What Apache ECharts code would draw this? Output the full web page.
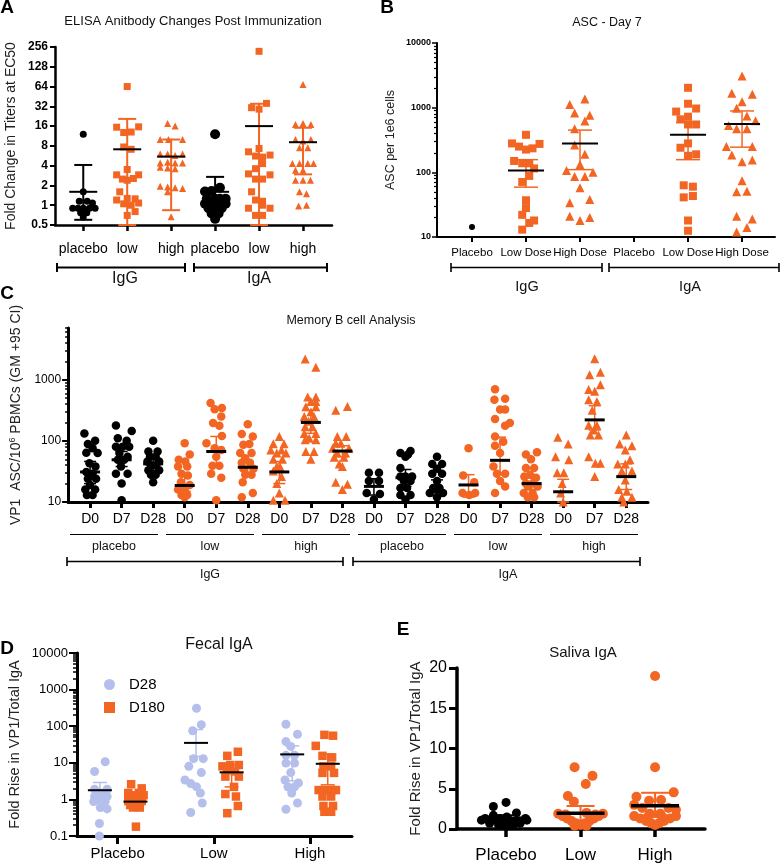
<!DOCTYPE html>
<html><head><meta charset="utf-8">
<script src="https://cdn.jsdelivr.net/npm/echarts@6/dist/echarts.min.js"></script>
<style>html,body{margin:0;padding:0;background:#fff}#c{width:781px;height:865px}</style>
</head><body><div id="c"></div><script>
const ORANGE = '#F26522', BLACK = '#000000', LAV = '#B4BFEC';
const FONT = '"Liberation Sans", Arial, Helvetica, sans-serif';

// ---------- Panel A: ELISA (fold change, log2) ----------
const aCategories = ['placebo', 'low', 'high', 'placebo', 'low', 'high'];
const aIsotypes = ['IgG', 'IgA'];
// points: [horizontal jitter (category units), value]
const aIgGPlacebo = [[0,12],[0,1.6],[-0.09,1.15],[0.09,1.15],[0.21,1.08],[-0.24,0.9],[-0.12,0.9],[0,0.9],[0.14,0.9],[0.27,0.9],[-0.06,0.77],[0.08,0.77],[0,0.66]];
const aIgGLow = [[0,64],[-0.24,15.4],[0.26,15.6],[-0.08,12.8],[0.09,13],[-0.08,7.7],[0.09,7.1],[0,3.5],[-0.24,2.9],[0.26,2.9],[-0.11,2.5],[0,2.4],[0.14,2.55],[-0.17,1.6],[-0.24,1.2],[0,1.27],[0.18,1.25],[-0.08,1.05],[0.09,1.0],[0.26,1.08],[0.18,0.8],[0,0.7]];
const aIgGHigh = [[-0.08,17.6],[0.09,16],[-0.25,10],[-0.06,10],[0.26,10],[-0.25,6],[-0.08,6],[0.26,6],[0.09,5.7],[-0.25,4.4],[-0.08,4.5],[0.09,4.4],[0.26,4.4],[-0.25,3.8],[-0.08,3.7],[0.09,3.6],[-0.25,1.95],[-0.08,1.9],[0.09,1.85],[0.26,1.8],[-0.08,1.6],[0,0.67]];
const aIgAPlacebo = [[0,12],[0.11,1.84],[-0.23,1.62],[-0.08,1.65],[-0.19,1.25],[0,1.25],[0.11,1.25],[0.24,1.25],[-0.23,1.05],[-0.08,1.02],[0.08,1.02],[0.24,1.05],[-0.15,0.9],[0,0.9],[0.15,0.9],[-0.08,0.75],[0.08,0.75],[0,0.62]];
const aIgALow = [[0,220],[-0.17,30.5],[0.17,35.5],[0,29],[0,7.3],[-0.24,6.5],[-0.08,5.6],[0.08,5.4],[0.25,5.8],[0.08,4.3],[-0.08,3.6],[-0.24,3.0],[0.25,2.9],[-0.08,2.5],[0.08,2.5],[-0.17,1.6],[-0.08,1.2],[0.08,1.15],[0.08,1.0],[-0.24,0.9],[0.25,0.9],[-0.08,0.7],[0.08,0.7]];
const aIgAHigh = [[0,69],[0,17.6],[0.18,17],[-0.17,17],[-0.17,10],[0.18,10],[0,9.5],[-0.08,7.5],[0.11,7.5],[-0.24,4.3],[-0.08,4.3],[0.11,4.3],[0.24,4.3],[-0.17,3.4],[0,3.4],[-0.17,2.4],[0.17,2.4],[0,2.4],[-0.08,1.6],[0.08,1.5],[-0.1,0.97],[0.08,1.0]];
const aMean  = [1.6, 7.1, 5.5, 1.6, 16, 9.1];
const aLower = [0.6, 0.5, 0.84, 0.95, 0.5, 2.95];
const aUpper = [4.1, 20.6, 10, 2.7, 35, 15.1];

// ---------- Panel B: ASC Day 7 ----------
const bCategories = ['Placebo', 'Low Dose', 'High Dose', 'Placebo', 'Low Dose', 'High Dose'];
const bIsotypes = ['IgG', 'IgA'];
const bIgGPlacebo = [[0,14.3]];
const bIgGLow = [[0,380],[-0.26,280],[-0.13,250],[0,225],[0.12,235],[0.25,275],[-0.22,150],[-0.07,138],[0.06,138],[0.15,115],[0.06,88],[-0.07,71],[0,37],[0,28],[-0.07,22],[0.06,16.5],[0.15,18],[-0.07,13]];
const bIgGHigh = [[0.09,1360],[-0.19,1120],[-0.1,830],[0.18,760],[0.09,620],[-0.1,470],[-0.1,265],[0.09,190],[0,132],[-0.25,107],[0.24,100],[-0.1,86],[0.09,86],[0,58],[-0.19,34],[0.18,38],[-0.19,21],[0,18],[0.18,20]];
const bIgALow = [[0,2030],[0,1150],[0.15,970],[-0.22,870],[0,725],[-0.14,660],[0.15,550],[0,550],[0,280],[-0.14,240],[0.15,190],[0,180],[-0.08,63],[0.09,60],[-0.08,41],[0.09,43],[0,18],[0,12.5]];
const bIgAHigh = [[0,3100],[-0.19,1670],[0.19,1610],[0,1240],[-0.1,980],[0.09,740],[-0.25,530],[-0.1,470],[0.09,470],[0.25,630],[-0.29,250],[0.19,250],[-0.19,185],[0,146],[0.19,155],[0,74],[-0.1,50],[0.09,51],[-0.1,21],[0.19,19],[-0.1,12],[0.09,14]];
const bErrPos   = [2, 3, 5, 6];
const bMean  = [107, 280, 380, 560];
const bLower = [59, 110, 157, 245];
const bUpper = [157, 450, 590, 890];

// ---------- Panel C: Memory B cells ----------
const cDays = ['D0','D7','D28','D0','D7','D28','D0','D7','D28','D0','D7','D28','D0','D7','D28','D0','D7','D28'];
const cDoses = ['placebo','low','high','placebo','low','high'];
const cIsotypes = ['IgG', 'IgA'];
const cIgGPlaceboD0 = [[-0.18,132],[0.16,100],[-0.07,89],[0.08,76],[-0.12,64],[0.24,63],[-0.02,43],[0.17,38],[-0.12,31],[0.08,29],[-0.07,24],[0.19,24],[0,19],[-0.15,16],[0.16,16],[-0.1,13],[0.08,13]];
const cIgGPlaceboD7 = [[-0.18,178],[0.32,145],[-0.12,110],[0.16,100],[-0.18,80],[0.03,80],[0.24,80],[-0.07,63],[0.19,55],[-0.12,49],[0.08,49],[-0.02,38],[-0.18,29],[0.19,29],[0,20],[0,10.7]];
const cIgGPlaceboD28 = [[0,100],[-0.15,67],[0.14,67],[-0.1,55],[0.08,55],[-0.18,46],[0.19,46],[-0.07,40],[0.08,40],[-0.15,33],[0.19,33],[-0.07,28],[0.08,28],[0,21]];
const cIgGLowD0 = [[0,91],[0.16,60],[-0.19,49],[0.02,46],[-0.21,38],[0.08,38],[-0.1,29],[0.1,27],[-0.12,21],[0.16,19],[-0.21,16],[0,16],[-0.1,13],[0.08,13],[0,12]];
const cIgGLowD7 = [[-0.18,415],[-0.05,330],[0.18,345],[0.16,250],[-0.1,195],[0.1,176],[0.18,120],[-0.31,91],[-0.05,76],[0.16,71],[0,55],[-0.12,39],[0.1,39],[-0.16,29],[0.16,25],[0,10.7]];
const cIgGLowD28 = [[0,187],[-0.19,129],[0.16,118],[-0.14,86],[0.05,89],[-0.24,63],[0.12,63],[-0.08,52],[-0.19,44],[0.07,44],[-0.14,35],[0.18,35],[-0.08,28],[0.12,28],[-0.16,21],[0.16,14],[-0.19,12]];
const cIgGHighD0 = [[0,118],[-0.19,90],[0.15,90],[-0.27,71],[0.07,71],[-0.08,63],[0.21,63],[-0.19,50],[0.1,50],[-0.08,38],[0.02,38],[-0.19,32],[0.07,26],[-0.08,20],[0,14],[-0.19,10.7],[0.18,10.7]];
const cIgGHighD7 = [[-0.18,2180],[0.16,1590],[-0.1,520],[0.16,520],[0,440],[0.16,440],[-0.16,360],[0.16,360],[0,300],[-0.21,250],[0.1,250],[-0.07,210],[-0.18,170],[0.05,170],[-0.21,132],[0.16,132],[-0.05,110],[-0.18,104],[0.16,104],[-0.16,67],[0.1,67],[0,50]];
const cIgGHighD28 = [[-0.21,315],[0.16,365],[-0.16,118],[0.12,118],[-0.21,91],[-0.05,91],[-0.31,76],[0.21,76],[-0.16,63],[0.1,63],[-0.26,54],[0.05,54],[-0.1,42],[0,38],[-0.21,21],[0.16,19.5],[0,16]];
const cIgAPlaceboD0 = [[-0.16,30],[0.16,30],[-0.16,22],[0.16,22],[-0.23,14],[0.19,13.5],[0,11]];
const cIgAPlaceboD7 = [[-0.16,63],[0,55],[0.16,68],[0.08,60],[-0.16,36],[-0.16,26],[0,26],[0.21,26],[-0.05,22],[0.16,22],[-0.16,17],[0.05,17],[-0.16,13],[0.16,13],[0,11]];
const cIgAPlaceboD28 = [[0,55],[-0.15,42],[0.16,42],[0,35],[-0.15,29],[0.16,29],[0,22],[-0.12,17],[0.08,17],[-0.23,14],[0.19,14],[0,12]];
const cIgALowD0 = [[0,76],[-0.17,27],[0.18,21],[-0.19,14],[0.02,13],[0.21,14]];
const cIgALowD7 = [[-0.16,700],[-0.18,470],[0.16,490],[0,325],[0.16,325],[-0.16,228],[0.31,195],[0.16,176],[-0.16,118],[0.1,97],[-0.16,83],[0,63],[-0.21,38],[-0.1,29],[0.16,29],[0,22],[0.16,18],[-0.16,14]];
const cIgALowD28 = [[-0.18,60],[0.17,65],[-0.02,50],[-0.18,36],[0.08,36],[-0.05,28],[-0.23,26],[0.14,25],[-0.18,20],[0.03,20],[-0.12,18],[0.19,18],[-0.25,14],[0.03,14],[-0.12,12],[0.08,12]];
const cIgAHighD0 = [[-0.17,115],[0.16,89],[-0.24,55],[0.18,49],[-0.19,30],[0.02,30],[-0.03,20],[-0.08,14],[0,10]];
const cIgAHighD7 = [[0,2200],[-0.16,1200],[0.18,1320],[-0.19,690],[0.18,830],[0,650],[-0.19,470],[0.07,440],[-0.08,315],[-0.19,180],[0.07,180],[-0.03,150],[-0.14,125],[0.12,125],[-0.19,55],[0.18,43],[0.02,43],[0,26]];
const cIgAHighD28 = [[0,125],[-0.21,89],[0.18,83],[-0.03,71],[-0.27,42],[-0.03,42],[0.12,49],[-0.14,32],[0.18,32],[-0.03,23],[-0.24,16],[0.02,15],[-0.14,12],[0.18,12],[-0.08,10]];
const cMean  = [31,49,42,18.6,67,37,31,200,68,18,25,14.5,19,48,20,14.7,220,26];
const cLower = [20,38,33,15,40,29,20,133,55,13,18,12.6,12,30,16,10,150,16];
const cUpper = [46,67,52,26,118,46,46,315,83,24,34,23,28,115,25,23.5,375,42];

// ---------- Panel D: Fecal IgA ----------
const dCategories = ['Placebo', 'Low', 'High'];
const dSeriesNames = ['D28', 'D180'];
const dD28Placebo = [[-0.13,10.7],[-0.24,5.8],[-0.24,1.9],[-0.11,1.9],[-0.18,1.5],[-0.24,1.2],[-0.11,1.2],[-0.2,1.0],[-0.15,1.0],[-0.25,0.87],[-0.13,0.87],[-0.18,0.6],[-0.11,0.55],[-0.19,0.22],[-0.19,0.1]];
const dD180Placebo = [[0.14,2.6],[0.25,2.0],[0.22,1.5],[0.11,1.5],[0.16,1.3],[0.27,1.3],[0.13,1.0],[0.2,1.0],[0.25,1.0],[0.11,0.9],[0.18,0.9],[0.25,0.9],[0.15,0.8],[0.22,0.8],[0.13,0.7],[0.2,0.7],[0.16,0.6],[0.23,0.6],[0.19,0.18]];
const dD28Low = [[-0.18,310],[-0.13,110],[-0.22,75],[-0.21,13],[-0.11,13],[-0.26,8],[-0.13,5.4],[-0.3,3.4],[-0.24,2.7],[-0.18,2.2],[-0.14,1.5],[-0.12,0.8],[-0.24,0.44]];
const dD180Low = [[0.25,20],[0.14,15.5],[0.09,8],[0.17,8.7],[0.26,8.7],[0.14,6.3],[0.22,5.8],[0.12,4.2],[0.26,4.2],[0.21,2.2],[0.12,1.4],[0.23,1.2],[0.25,0.66],[0.14,0.42]];
const dD28High = [[-0.25,113],[-0.13,60],[-0.25,38],[-0.2,28],[-0.25,16],[-0.16,16],[-0.25,9.8],[-0.16,9.8],[-0.2,5.4],[-0.26,3.4],[-0.12,2.8],[-0.23,2.2],[-0.16,2.2],[-0.19,1.5],[-0.13,0.8],[-0.25,0.54]];
const dD180High = [[0.15,58],[0.24,55],[0.06,29],[0.13,15.5],[0.23,14],[0.14,8],[0.22,8],[0.13,5.3],[0.25,5.3],[0.09,1.8],[0.15,1.8],[0.23,1.8],[0.27,1.8],[0.13,1.2],[0.22,1.2],[0.14,0.66],[0.24,0.66],[0.15,0.46],[0.22,0.46]];
const dD28Mean = [1.78, 35, 17],  dD28Lower = [1.05, 15, 3.2],  dD28Upper = [2.9, 81, 29];
const dD180Mean = [0.87, 5.5, 9.4], dD180Lower = [0.7, 2.2, 2.5], dD180Upper = [1.1, 8.7, 17.5];

// ---------- Panel E: Saliva IgA ----------
const eCategories = ['Placebo', 'Low', 'High'];
const ePlacebo = [[0,3.3],[-0.17,2.8],[0.14,2.0],[-0.28,1.3],[-0.17,1.7],[-0.08,1.3],[0.26,1.3],[-0.33,1.1],[-0.22,1.0],[-0.13,1.1],[0.03,1.2],[0.19,1.0],[0.28,1.1],[-0.22,0.7],[-0.06,0.7],[0.08,0.7],[0.19,0.7],[0,0.3],[-0.1,0.5],[0.1,0.5],[0.01,1.5]];
const eLow = [[-0.08,7.66],[0.16,6.6],[0.07,5.6],[-0.17,4.1],[-0.09,3.4],[0.08,2.0],[-0.3,1.9],[-0.24,1.6],[-0.18,1.3],[-0.12,1.0],[-0.06,0.7],[0,0.5],[0.06,0.7],[0.12,1.0],[0.18,1.3],[0.24,1.6],[0.3,1.9],[-0.2,1.8],[0.2,1.8],[-0.08,0.4],[0.08,0.4]];
const eHigh = [[0,19.0],[0,7.66],[0.25,4.55],[-0.25,4.0],[-0.08,3.5],[0.08,3.6],[-0.28,3.0],[-0.17,2.6],[0.18,2.6],[0.28,2.4],[-0.07,1.9],[0.07,1.9],[-0.28,1.6],[-0.2,1.3],[-0.12,1.0],[-0.05,0.7],[0,0.5],[0.05,0.7],[0.12,1.0],[0.2,1.3],[0.28,1.6],[-0.1,1.5],[0.1,1.5]];
const eMean  = [1.3, 1.95, 2.9];
const eLower = [1.0, 1.0, 1.5];
const eUpper = [1.7, 2.86, 4.5];

// ================= build chart =================
const chart = echarts.init(document.getElementById('c'), null, {renderer: 'canvas'});
const idx = arr => arr.map((_, i) => i + 1);

function xAxisOf(grid, min, max, names, o) {
  const vals = idx(names);
  return {gridIndex: grid, type: 'value', min, max, splitLine: {show: false},
    axisLine: {show: true, onZero: false, lineStyle: {color: '#000', width: o.lw}},
    axisTick: {show: true, customValues: vals, length: o.tl, lineStyle: {color: '#000', width: o.tw || o.lw}},
    axisLabel: {customValues: vals, formatter: v => names[Math.round(v) - 1] || '', fontSize: o.fs, color: '#000', margin: o.margin, fontFamily: FONT}};
}
function isPow10(v) { const l = Math.log10(v); return Math.abs(l - Math.round(l)) < 1e-6; }
function minorVals(lo, hi) { // log10 positions of minor ticks between decades lo..hi
  const out = [];
  for (let d = lo; d < hi; d++) for (let k = 2; k <= 9; k++) out.push(d + Math.log10(k));
  return out;
}
function minorAxis(grid, lo, hi, len, w) {
  return {gridIndex: grid, type: 'value', min: lo, max: Math.log10(hi[1]), position: 'left',
    axisLine: {show: false}, splitLine: {show: false}, axisLabel: {show: false},
    axisTick: {show: true, customValues: minorVals(lo, hi[0]).filter(v => v <= Math.log10(hi[1]) + 1e-9), length: len, lineStyle: {color: '#000', width: w}}};
}
function scat(xi, yi, pts, pos, symbol, size, color, name) {
  return {type: 'scatter', name: name, xAxisIndex: xi, yAxisIndex: yi, symbol, symbolSize: size,
    itemStyle: {color, opacity: 1}, data: pts.map(p => [pos + p[0], p[1]]), z: 3, silent: true};
}
function errSeries(xi, yi, data, meanHalf, capHalf, lw, meanLw) {
  return {type: 'custom', xAxisIndex: xi, yAxisIndex: yi, z: 10, silent: true, data,
    renderItem(params, api) {
      const x = api.value(0);
      const m = api.coord([x, api.value(1)]), lo = api.coord([x, api.value(2)]), hi = api.coord([x, api.value(3)]);
      const c = api.visual('color');
      return {type: 'group', children: [
        {type: 'line', shape: {x1: m[0], y1: lo[1], x2: m[0], y2: hi[1]}, style: {stroke: c, lineWidth: lw}},
        {type: 'line', shape: {x1: m[0] - capHalf, y1: hi[1], x2: m[0] + capHalf, y2: hi[1]}, style: {stroke: c, lineWidth: lw}},
        {type: 'line', shape: {x1: m[0] - capHalf, y1: lo[1], x2: m[0] + capHalf, y2: lo[1]}, style: {stroke: c, lineWidth: lw}},
        {type: 'line', shape: {x1: m[0] - meanHalf, y1: m[1], x2: m[0] + meanHalf, y2: m[1]}, style: {stroke: '#000', lineWidth: meanLw}}
      ]};
    }};
}
const errData = (pos, mean, lo, hi, colors) => mean.map((m, i) => ({value: [pos[i], m, lo[i], hi[i]], itemStyle: {color: colors[i]}}));

// grids
const grid = [
  {left: 55, top: 47, width: 277, height: 178},   // A
  {left: 437, top: 43, width: 338, height: 194},  // B
  {left: 60, top: 328, width: 588, height: 174},  // C
  {left: 77, top: 653, width: 275, height: 183},  // D
  {left: 457, top: 668, width: 248, height: 161}  // E
];

const xAxis = [
  xAxisOf(0, 0.357, 6.66, aCategories, {lw: 2.5, tl: 6, fs: 14, margin: 17}),
  xAxisOf(1, 0.352, 6.61, bCategories, {lw: 2, tl: 5, fs: 11.5, margin: 10}),
  xAxisOf(2, 0.303, 18.69, cDays, {lw: 3, tl: 6, fs: 14, margin: 10}),
  xAxisOf(3, 0.577, 3.437, dCategories, {lw: 3, tl: 8, fs: 15, margin: 10}),
  xAxisOf(4, 0.342, 3.67, eCategories, {lw: 3.5, tl: 8, fs: 17, margin: 18})
];

const yAxis = [
  {gridIndex: 0, type: 'log', logBase: 2, min: 0.5, max: 256, splitNumber: 9, splitLine: {show: false},
   axisLine: {show: true, lineStyle: {color: '#000', width: 2.5}}, axisTick: {show: true, length: 5, lineStyle: {width: 2}},
   axisLabel: {fontSize: 12, fontWeight: 'bold', color: '#000', margin: 7, fontFamily: FONT},
   name: 'Fold Change in Titers at EC50', nameLocation: 'middle', nameGap: 37, nameTextStyle: {fontSize: 14, color: '#222', fontFamily: FONT}},
  {gridIndex: 1, type: 'log', min: 10, max: 10000, splitNumber: 3, splitLine: {show: false},
   axisLine: {show: true, lineStyle: {color: '#000', width: 2}}, axisTick: {show: true, length: 5, lineStyle: {width: 1.5}},
   axisLabel: {fontSize: 9, fontWeight: 'bold', color: '#000', margin: 6, fontFamily: FONT, formatter: v => isPow10(v) ? String(Math.round(v)) : ''},
   name: 'ASC per 1e6 cells', nameLocation: 'middle', nameGap: 40, nameTextStyle: {fontSize: 12.5, color: '#222', fontFamily: FONT}},
  minorAxis(1, 1, [4, 10000], 3, 1.2),
  {gridIndex: 2, type: 'log', min: 10, max: 7000, splitNumber: 3, splitLine: {show: false},
   axisLine: {show: true, lineStyle: {color: '#000', width: 3}}, axisTick: {show: true, length: 6, lineStyle: {width: 2}},
   axisLabel: {fontSize: 12, color: '#000', margin: 7, fontFamily: FONT, formatter: v => isPow10(v) ? String(Math.round(v)) : '', showMaxLabel: false},
   name: 'VP1  ASC/10{sup|6} PBMCs (GM +95 CI)', nameLocation: 'middle', nameGap: 37,
   nameTextStyle: {fontSize: 14, color: '#222', fontFamily: FONT, rich: {sup: {fontSize: 9, verticalAlign: 'top', padding: [0, 0, 8, 0], color: '#222'}}}},
  minorAxis(2, 1, [4, 7000], 3, 1.5),
  {gridIndex: 3, type: 'log', min: 0.1, max: 10000, splitNumber: 5, splitLine: {show: false},
   axisLine: {show: true, lineStyle: {color: '#000', width: 3}}, axisTick: {show: true, length: 8, lineStyle: {width: 2}},
   axisLabel: {fontSize: 13, color: '#000', margin: 9, fontFamily: FONT, formatter: v => isPow10(v) ? (v < 1 ? '0.1' : String(Math.round(v))) : ''},
   name: 'Fold Rise in VP1/Total IgA', nameLocation: 'middle', nameGap: 55, nameTextStyle: {fontSize: 14.5, color: '#222', fontFamily: FONT}},
  minorAxis(3, -1, [4, 10000], 4, 1.5),
  {gridIndex: 4, type: 'value', min: 0, max: 20, interval: 5, splitLine: {show: false},
   axisLine: {show: true, onZero: false, lineStyle: {color: '#000', width: 3.5}}, axisTick: {show: true, length: 8, lineStyle: {width: 3}},
   axisLabel: {fontSize: 16, color: '#000', margin: 10, fontFamily: FONT},
   name: 'Fold Rise in VP1/Total IgA', nameLocation: 'middle', nameGap: 34, nameTextStyle: {fontSize: 15, color: '#222', fontFamily: FONT}}
];

const series = [];
// A
series.push(scat(0, 0, aIgGPlacebo, 1, 'circle', 7, BLACK));
series.push(scat(0, 0, aIgGLow, 2, 'rect', 7, ORANGE));
series.push(scat(0, 0, aIgGHigh, 3, 'triangle', 7, ORANGE));
series.push(scat(0, 0, aIgAPlacebo, 4, 'circle', 10, BLACK));
series.push(scat(0, 0, aIgALow, 5, 'rect', 7, ORANGE));
series.push(scat(0, 0, aIgAHigh, 6, 'triangle', 7, ORANGE));
series.push(errSeries(0, 0, errData(idx(aMean), aMean, aLower, aUpper, [BLACK, ORANGE, ORANGE, BLACK, ORANGE, ORANGE]), 14, 9, 2, 2));
// B
series.push(scat(1, 1, bIgGPlacebo, 1, 'circle', 6, BLACK));
series.push(scat(1, 1, bIgGLow, 2, 'rect', 8, ORANGE));
series.push(scat(1, 1, bIgGHigh, 3, 'triangle', 9, ORANGE));
series.push(scat(1, 1, bIgALow, 5, 'rect', 8, ORANGE));
series.push(scat(1, 1, bIgAHigh, 6, 'triangle', 9, ORANGE));
series.push(errSeries(1, 1, errData(bErrPos, bMean, bLower, bUpper, [ORANGE, ORANGE, ORANGE, ORANGE]), 18, 12, 1.5, 2));
// C
const cGroups = [cIgGPlaceboD0, cIgGPlaceboD7, cIgGPlaceboD28, cIgGLowD0, cIgGLowD7, cIgGLowD28, cIgGHighD0, cIgGHighD7, cIgGHighD28,
                 cIgAPlaceboD0, cIgAPlaceboD7, cIgAPlaceboD28, cIgALowD0, cIgALowD7, cIgALowD28, cIgAHighD0, cIgAHighD7, cIgAHighD28];
const cColors = cGroups.map((g, i) => (Math.floor(i / 3) % 3 === 0) ? BLACK : ORANGE);
cGroups.forEach((g, i) => {
  const dose = Math.floor(i / 3) % 3;
  series.push(scat(2, 3, g, i + 1, dose === 2 ? 'triangle' : 'circle', dose === 2 ? 9 : 8.5, cColors[i]));
});
series.push(errSeries(2, 3, errData(idx(cMean), cMean, cLower, cUpper, cColors), 10, 6, 1.5, 3));
// D
const dD28 = [].concat(dD28Placebo.map(p => [p[0] + 1, p[1]]), dD28Low.map(p => [p[0] + 2, p[1]]), dD28High.map(p => [p[0] + 3, p[1]]));
const dD180 = [].concat(dD180Placebo.map(p => [p[0] + 1, p[1]]), dD180Low.map(p => [p[0] + 2, p[1]]), dD180High.map(p => [p[0] + 3, p[1]]));
series.push(scat(3, 5, dD28, 0, 'circle', 9, LAV, dSeriesNames[0]));
series.push(scat(3, 5, dD180, 0, 'rect', 8.5, ORANGE, dSeriesNames[1]));
const D_OFF = 0.185;
series.push(errSeries(3, 5, errData(idx(dD28Mean).map(v => v - D_OFF), dD28Mean, dD28Lower, dD28Upper, [LAV, LAV, LAV]), 12, 7, 1.5, 2));
series.push(errSeries(3, 5, errData(idx(dD180Mean).map(v => v + D_OFF), dD180Mean, dD180Lower, dD180Upper, [ORANGE, ORANGE, ORANGE]), 12, 7, 1.5, 2));
// E
series.push(scat(4, 7, ePlacebo, 1, 'circle', 9, BLACK));
series.push(scat(4, 7, eLow, 2, 'circle', 10, ORANGE));
series.push(scat(4, 7, eHigh, 3, 'circle', 10, ORANGE));
series.push(errSeries(4, 7, errData(idx(eMean), eMean, eLower, eUpper, [BLACK, ORANGE, ORANGE]), 24, 14, 2, 3.5));

// ---------- annotations ----------
const T = (text, x, y, size, opts) => Object.assign({type: 'text', x, y, style: {text, fontSize: size, fontFamily: FONT, fill: '#111', textAlign: 'center', textVerticalAlign: 'middle'}}, opts || {});
const L = (x1, y1, x2, y2, w) => ({type: 'line', shape: {x1, y1, x2, y2}, style: {stroke: '#000', lineWidth: w || 2}});
const bracket = (x1, x2, y, h, w) => [L(x1, y, x2, y, w), L(x1, y - h, x1, y + h, w), L(x2, y - h, x2, y + h, w)];
function letter(t, x, y) { const g = T(t, x, y, 19); g.style.fontWeight = 'bold'; g.style.fill = '#000'; return g; }

const graphic = [
  letter('A', 7, 8), letter('B', 387, 8), letter('C', 7, 294), letter('D', 7, 649), letter('E', 403, 630),
  T('ELISA Anitbody Changes Post Immunization', 193, 21, 13),
  T('ASC - Day 7', 607, 23, 12.5),
  T('Memory B cell Analysis', 351, 321, 12.5),
  T('Fecal IgA', 219, 645, 16),
  T('Saliva IgA', 583, 653, 15),
  ...bracket(57, 185, 267.5, 4.5, 2), ...bracket(194, 327, 267.5, 4.5, 2),
  T(aIsotypes[0], 125, 279, 16), T(aIsotypes[1], 259, 279, 16),
  ...bracket(451, 602, 267.5, 4.5, 1.6), ...bracket(609, 779, 267.5, 4.5, 1.6),
  T(bIsotypes[0], 527, 287, 14.5), T(bIsotypes[1], 690, 287, 14.5),
  ...bracket(67, 343, 561.5, 4.5, 1.6), ...bracket(353, 640, 561.5, 4.5, 1.6),
  T(cIsotypes[0], 210, 575, 12.5), T(cIsotypes[1], 508, 575, 12.5)
];
cDoses.forEach((d, g) => {
  graphic.push(L(70 + 96 * g, 534.5, 158 + 96 * g, 534.5, 1));
  graphic.push(T(d, 114 + 96 * g, 547, 12.5));
});

chart.setOption({
  animation: false,
  backgroundColor: '#fff',
  textStyle: {fontFamily: FONT},
  grid, xAxis, yAxis, series, graphic,
  legend: {data: dSeriesNames, orient: 'vertical', left: 99, top: 672, itemWidth: 11, itemHeight: 11, itemGap: 8, selectedMode: false,
    textStyle: {fontSize: 15, fontFamily: FONT, color: '#000', padding: [0, 0, 0, 9]}}
});
</script></body></html>
